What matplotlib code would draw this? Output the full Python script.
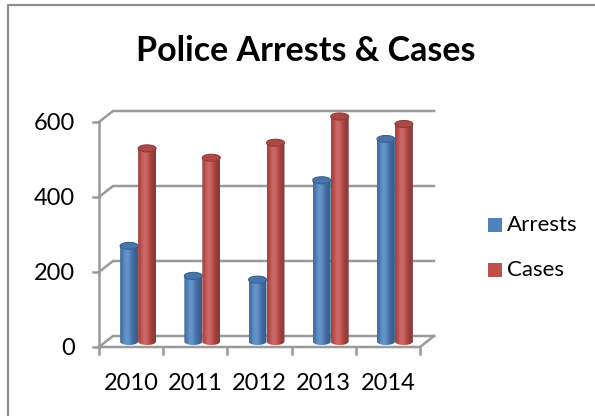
import numpy as np
import matplotlib.pyplot as plt
from matplotlib.patches import Polygon, Rectangle
from matplotlib.lines import Line2D
from matplotlib.colors import to_rgb

years = ["2010", "2011", "2012", "2013", "2014"]
arrests = [255, 175, 165, 430, 540]
cases = [515, 490, 530, 600, 580]
y_ticks = [0, 200, 400, 600]
series_names = ["Arrests", "Cases"]
series_colors = ["#4F81BD", "#C0504D"]

plt.rcParams["font.family"] = ["Lato", "DejaVu Sans"]

W, H = 595, 416
# front edge of the floor and value scale, in pixels from top-left
PX_LEFT, PX_RIGHT = 99, 420
PX_ZERO, PX_TOP = 347, 122
DEPTH_PX = (14, 11)          # right / up shift of the back wall
GRID = "#9a9a9a"

fig = plt.figure(figsize=(W / 100, H / 100), dpi=100)
ax = fig.add_axes([0, 0, 1, 1])
n = len(years)
sx = (PX_RIGHT - PX_LEFT) / n
sy = (PX_ZERO - PX_TOP) / max(y_ticks)
x0 = -0.5 - PX_LEFT / sx
y0 = -(H - PX_ZERO) / sy
ax.set_xlim(x0, x0 + W / sx)
ax.set_ylim(y0, y0 + H / sy)
ax.axis("off")

dx = DEPTH_PX[0] / sx
dy = DEPTH_PX[1] / sy
xl, xr = -0.5, n - 0.5


def px(x, y):
    """pixel (from top-left) -> figure fraction"""
    return x / W, 1 - y / H


# chart area border (only top/left edges fall inside the image)
fig.add_artist(Line2D([px(8, 0)[0], px(8, 0)[0], 1.0],
                      [0.0, px(0, 5)[1], px(0, 5)[1]],
                      transform=fig.transFigure, color="#8c8c8c", lw=1.6))

# back wall gridlines + side wall diagonals
for v in y_ticks:
    ax.plot([xl, xl + dx, xr + dx], [v, v + dy, v + dy], color=GRID, lw=1.8,
            solid_joinstyle="miter", zorder=1)

# floor front edge and right diagonal
ax.plot([xl, xr, xr + dx], [0, 0, dy], color=GRID, lw=1.8, zorder=1)

# value axis
ax.plot([xl, xl], [0, max(y_ticks)], color=GRID, lw=1.8, zorder=1)
for v in y_ticks:
    ax.plot([xl - 6 / sx, xl], [v, v], color=GRID, lw=1.8, zorder=1)
    ax.text(xl - 24 / sx, v - 8 / sy, str(v), ha="right", va="baseline",
            fontsize=17, color="black")

# category ticks and labels
for i in range(n + 1):
    ax.plot([xl + i, xl + i], [0, -7 / sy], color=GRID, lw=1.8, zorder=1)
for i, yr in enumerate(years):
    ax.text(i, -43 / sy, yr, ha="center", va="baseline", fontsize=17,
            color="black")


def shade(color, k):
    c = np.array(to_rgb(color))
    if k >= 0:
        return c + (1 - c) * k
    return c * (1 + k)


def cylinder(cx, h, w, color, z):
    e = 3.5 / sy
    base = dy / 2
    t = np.linspace(np.pi, 2 * np.pi, 40)
    bottom = np.column_stack([cx + w / 2 * np.cos(t), base + e * np.sin(t)])
    body = np.vstack([[cx - w / 2, base + h], bottom, [cx + w / 2, base + h]])
    poly = Polygon(body, closed=True, facecolor="none", edgecolor="none", zorder=z)
    ax.add_patch(poly)
    # horizontal light/dark profile across the cylinder
    u = np.linspace(0, 1, 60)
    prof = np.exp(-((u - 0.38) / 0.32) ** 2)
    cols = np.array([shade(color, -0.28 + 0.42 * p) for p in prof])
    img = np.clip(cols[None, :, :], 0, 1)
    im = ax.imshow(img, extent=[cx - w / 2, cx + w / 2, base - e, base + h],
                   aspect="auto", interpolation="bilinear", zorder=z)
    im.set_clip_path(poly)
    tt = np.linspace(0, 2 * np.pi, 60)
    top = np.column_stack([cx + w / 2 * np.cos(tt), base + h + e * np.sin(tt)])
    ax.add_patch(Polygon(top, closed=True, facecolor=shade(color, -0.1),
                         edgecolor=shade(color, -0.25), lw=0.8, zorder=z + 0.1))


bw = 0.28
for i in range(n):
    c = i + dx / 2
    cylinder(c - bw / 2, arrests[i], bw, series_colors[0], 3)
    cylinder(c + bw / 2, cases[i], bw, series_colors[1], 4)

# legend
for k, (name, col) in enumerate(zip(series_names, series_colors)):
    yc = 225 + 45 * k
    fx, fy = px(488, yc + 7)
    fig.add_artist(Rectangle((fx, fy), 14 / W, 14 / H, transform=fig.transFigure,
                             facecolor=col, edgecolor="none"))
    tx, ty = px(507, yc)
    fig.text(tx, ty, name, ha="left", va="center", fontsize=16, color="black")

# title
tx, ty = px(306, 61)
fig.text(tx, ty, "Police Arrests & Cases", ha="center", va="baseline",
         fontsize=24.5, fontweight="bold", color="black")

fig.savefig("out.png", dpi=100)
